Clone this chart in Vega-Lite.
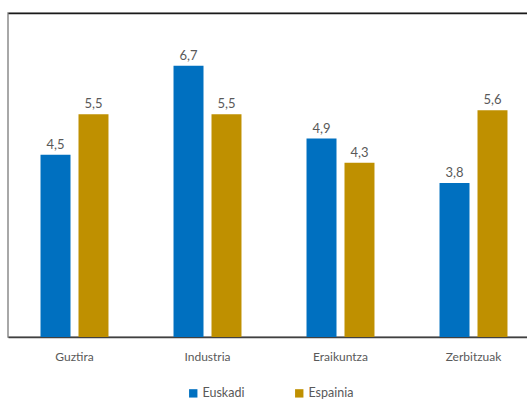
{
  "$schema": "https://vega.github.io/schema/vega-lite/v6.json",
  "width": 532,
  "height": 324,
  "autosize": "none",
  "padding": {"left": 8, "top": 13, "right": 0, "bottom": 62},
  "background": "white",
  "config": {
    "font": "Lato",
    "locale": {"number": {"decimal": ",", "thousands": ".", "grouping": [3], "currency": ["", " €"]}},
    "view": {"stroke": "#8c8c8c", "strokeWidth": 1.5}
  },
  "data": {
    "values": [
      {"sektorea": "Guztira", "eremua": "Euskadi", "balioa": 4.5},
      {"sektorea": "Guztira", "eremua": "Espainia", "balioa": 5.5},
      {"sektorea": "Industria", "eremua": "Euskadi", "balioa": 6.7},
      {"sektorea": "Industria", "eremua": "Espainia", "balioa": 5.5},
      {"sektorea": "Eraikuntza", "eremua": "Euskadi", "balioa": 4.9},
      {"sektorea": "Eraikuntza", "eremua": "Espainia", "balioa": 4.3},
      {"sektorea": "Zerbitzuak", "eremua": "Euskadi", "balioa": 3.8},
      {"sektorea": "Zerbitzuak", "eremua": "Espainia", "balioa": 5.6}
    ]
  },
  "encoding": {
    "x": {
      "field": "sektorea",
      "type": "nominal",
      "sort": ["Guztira", "Industria", "Eraikuntza", "Zerbitzuak"],
      "scale": {"paddingInner": 0.489, "paddingOuter": 0.2445},
      "axis": {
        "title": null,
        "labelAngle": 0,
        "labelFontSize": 12,
        "labelColor": "#595959",
        "labelPadding": 14,
        "ticks": false,
        "domainColor": "#404040",
        "domainWidth": 1.5
      }
    },
    "xOffset": {
      "field": "eremua",
      "type": "nominal",
      "sort": ["Euskadi", "Espainia"],
      "scale": {"paddingInner": 0.2105, "paddingOuter": 0}
    },
    "y": {
      "field": "balioa",
      "type": "quantitative",
      "scale": {"domain": [0, 8], "nice": false},
      "axis": {
        "title": null,
        "labels": false,
        "ticks": false,
        "domain": false,
        "grid": true,
        "values": [8],
        "gridColor": "#1a1a1a",
        "gridWidth": 1.5
      }
    }
  },
  "layer": [
    {
      "mark": {"type": "bar"},
      "encoding": {
        "color": {
          "field": "eremua",
          "type": "nominal",
          "sort": ["Euskadi", "Espainia"],
          "scale": {"domain": ["Euskadi", "Espainia"], "range": ["#0070C0", "#BF9000"]},
          "legend": {
            "title": null,
            "orient": "none",
            "legendX": 179,
            "legendY": 374,
            "direction": "horizontal",
            "symbolType": "square",
            "symbolSize": 70,
            "symbolStrokeWidth": 0,
            "labelFontSize": 12.5,
            "labelColor": "#595959",
            "labelOffset": 3,
            "columnPadding": 48
          }
        }
      }
    },
    {
      "mark": {"type": "text", "dy": -10, "fontSize": 13, "color": "#595959"},
      "encoding": {
        "text": {"field": "balioa", "type": "quantitative", "format": ".1f"}
      }
    }
  ]
}
